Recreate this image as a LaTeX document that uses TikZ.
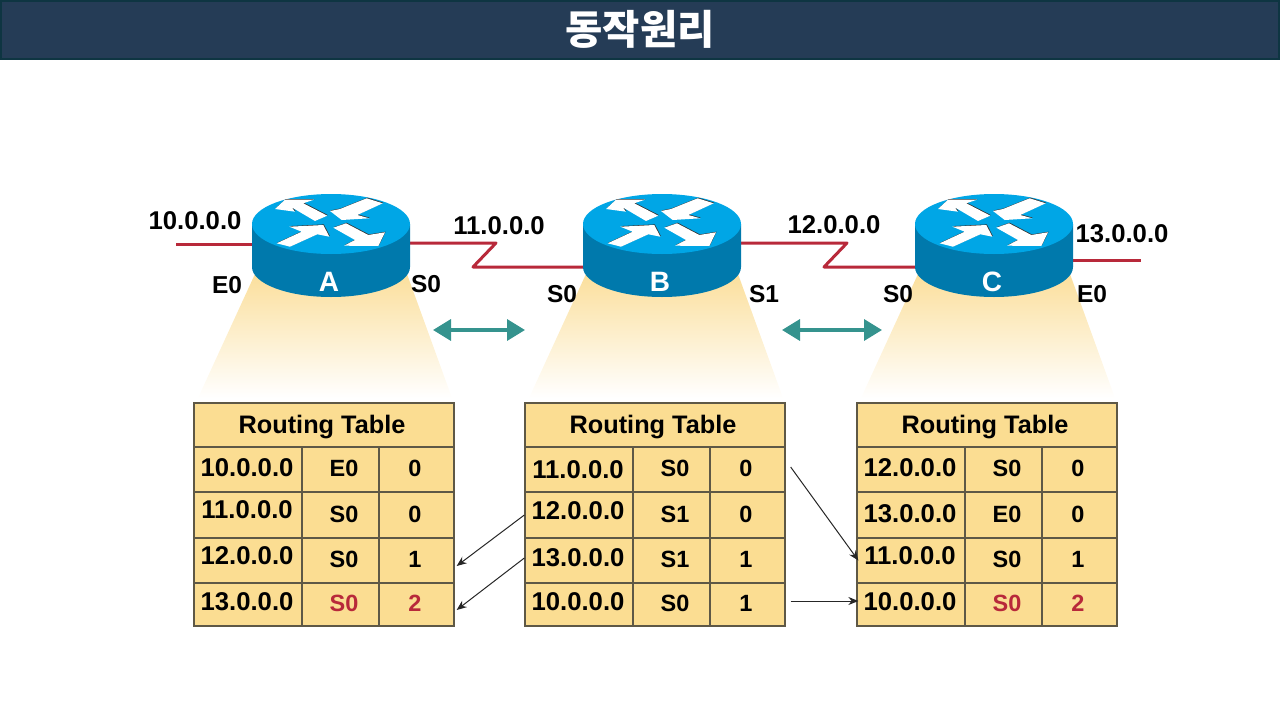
\documentclass[tikz,border=0pt]{standalone}
\usepackage{fontspec}
\setmainfont{Liberation Sans}
\newfontfamily\krfont{Noto Sans CJK KR}
\usetikzlibrary{arrows.meta}
\definecolor{barblue}{HTML}{253C56}
\definecolor{barline}{HTML}{0E3542}
\definecolor{topblue}{HTML}{00A6E6}
\definecolor{sideblue}{HTML}{0079AC}
\definecolor{linkred}{HTML}{B8293A}
\definecolor{tablefill}{HTML}{FBDD92}
\definecolor{tableline}{HTML}{5E5846}
\definecolor{conefill}{HTML}{FBDF9C}
\definecolor{tealarrow}{HTML}{35938E}
\begin{document}
\begin{tikzpicture}[
    x=1pt, y=-1pt,
    every node/.style={font=\fontsize{25.7}{30}\bfseries, inner sep=0pt},
    cell/.style={draw=tableline, line width=1.3pt, fill=tablefill},
    cellsmall/.style={font=\fontsize{23.5}{28}\bfseries},
    iface/.style={font=\fontsize{24.5}{28}\bfseries},
    wan/.style={draw=linkred, line width=3pt},
    update/.style={-{Stealth[length=10pt,width=8pt]}, draw=black!85, line width=1pt},
    exchange/.style={{Triangle[length=18pt,width=21pt]}-{Triangle[length=18pt,width=21pt]}, draw=tealarrow, line width=3.5pt}
]
\useasboundingbox (0,0) rectangle (1280,720);

% ---------- title bar ----------
\fill[barblue, draw=barline, line width=1.5pt] (1,1) rectangle (1279,59);
\node[text=white, font=\krfont\fontsize{40.5}{46}\bfseries] (title) at (640,29) {동작원리};

% ---------- macro for the invisible router boxes ----------
% #1 = name, #2 = centre x
\newcommand{\routerbox}[2]{
  \node[minimum width=158pt, minimum height=100pt] (rt#1) at (#2,244) {};
}
\routerbox{A}{331}
\routerbox{B}{661}
\routerbox{C}{994}

% ---------- red links, they run under the routers ----------
\coordinate (lanA) at (176,244);
\coordinate (bendA1) at (496,243);
\coordinate (bendA2) at (473,267);
\coordinate (bendB1) at (847,243);
\coordinate (bendB2) at (824,267);
\coordinate (lanC) at (1141,260);
\draw[wan] (lanA) -- (rtA.center);
\draw[wan, line join=round] (rtA.center |- bendA1) -- (bendA1) -- (bendA2) -- (bendA2 -| rtB.center);
\draw[wan, line join=round] (rtB.center |- bendB1) -- (bendB1) -- (bendB2) -- (bendB2 -| rtC.center);
\draw[wan] (rtC.center |- lanC) -- (lanC);

% ---------- macro to draw one router with its cone and table ----------
% #1 = x offset
% #2 = name
% #3 = rows: ip / shift of ip / port / hops / colour
\newcommand{\routersite}[3]{
  \begin{scope}[xshift=#1]
    % cone below the router
    \shade[top color=conefill, bottom color=white] (255,274) -- (407,274) -- (452,398) -- (198,398) -- cycle;
    % body and top
    \fill[sideblue] (252,224) -- (252,267) arc[start angle=180, end angle=360, x radius=79, y radius=-30] -- (410,224) -- cycle;
    \fill[topblue] (331,224) ellipse[x radius=79, y radius=30];
    % four arrows on the top
    \begin{scope}[shift={(331,224)}]
      \foreach \sx/\fillc in {0.6/black!80, 0/white}{
        \begin{scope}[shift={(\sx,-\sx)}]
          \fill[\fillc] (-56,-15) -- (-46,-24.3) -- (-17,-24.3) -- (-27.7,-20.7) -- (-3.7,-8.3) -- (-16,-3) -- (-39.3,-16.7) -- (-36,-12.3) -- cycle;
          \fill[\fillc] (-1,-13) -- (9,-15) -- (35.7,-25.7) -- (51.7,-20.7) -- (26.3,-9) -- (38.3,-5.7) -- (10.7,-4) -- cycle;
          \fill[\fillc] (-54.3,19.3) -- (-29.3,7.7) -- (-41.7,2.7) -- (-7.7,1) -- (-1.7,12.7) -- (-13.7,10.3) -- (-41,22.7) -- cycle;
          \fill[\fillc] (2.3,3.7) -- (15,-0.7) -- (37.3,11) -- (54,8.3) -- (47.3,22) -- (13,21.7) -- (24,16) -- cycle;
        \end{scope}
      }
    \end{scope}
    % router letter
    \node[text=white, font=\fontsize{28}{32}\bfseries] (letter#2) at (329,282) {#2};
    % table head
    \node[cell, minimum width=260pt, minimum height=44pt] (head#2) at (324,425) {};
    \node[font=\fontsize{25.3}{30}\bfseries] (headt#2) at (322,427) {Routing Table};
    % table rows
    \foreach \ip/\dy/\port/\hop/\col [count=\rw] in {#3}{
      \pgfmathsetmacro\ry{{469.5,515,560.5,604.5}[\rw-1]}
      \pgfmathsetmacro\rh{{45,46,45,43}[\rw-1]}
      \node[cell, minimum width=108pt, minimum height=\rh pt] (t#2-ip\rw) at (248,\ry) {};
      \node[cell, minimum width=77pt, minimum height=\rh pt] (t#2-port\rw) at (340.5,\ry) {};
      \node[cell, minimum width=75pt, minimum height=\rh pt] (t#2-hop\rw) at (416.5,\ry) {};
      \node (ipt#2\rw) at (247,\ry+\dy) {\ip};
      \node[cellsmall, text=\col] (portt#2\rw) at (344,\ry-1) {\port};
      \node[cellsmall, text=\col] (hopt#2\rw) at (415,\ry-1) {\hop};
    }
  \end{scope}
}

\routersite{0pt}{A}{10.0.0.0/-1.5/E0/0/black, 11.0.0.0/-5/S0/0/black, 12.0.0.0/-4.5/S0/1/black, 13.0.0.0/-2.5/S0/2/linkred}
\routersite{331pt}{B}{11.0.0.0/0.5/S0/0/black, 12.0.0.0/-4/S1/0/black, 13.0.0.0/-2.5/S1/1/black, 10.0.0.0/-2.5/S0/1/black}
\routersite{663pt}{C}{12.0.0.0/-1.5/S0/0/black, 13.0.0.0/-1/E0/0/black, 11.0.0.0/-4.5/S0/1/black, 10.0.0.0/-2.5/S0/2/linkred}

% ---------- network and port labels ----------
\node (netA) at (195,221) {10.0.0.0};
\node (netB) at (499,226) {11.0.0.0};
\node (netC) at (834,225) {12.0.0.0};
\node (netD) at (1122,234) {13.0.0.0};
\node[iface] (portAe) at (227,285) {E0};
\node[iface] (portAs) at (426,284) {S0};
\node[iface] (portBs0) at (562,294) {S0};
\node[iface] (portBs1) at (764,294) {S1};
\node[iface] (portCs) at (898,294) {S0};
\node[iface] (portCe) at (1092,294) {E0};

% ---------- teal arrows between the routers ----------
\coordinate (swapA1) at (433,330);
\coordinate (swapA2) at (525,330);
\coordinate (swapB1) at (782,330);
\coordinate (swapB2) at (882,330);
\draw[exchange] (swapA1) -- (swapA2);
\draw[exchange] (swapB1) -- (swapB2);

% ---------- table updates ----------
\draw[update] (tB-ip2.west) -- ([shift={(2,5.5)}]tA-hop3.east);
\draw[update] ([yshift=2.5]tB-ip3.west) -- ([shift={(2,5.5)}]tA-hop4.east);
\draw[update] ([shift={(5,-2.5)}]tB-hop1.east) -- ([xshift=2]tC-ip3.west);
\draw[update] ([shift={(5,-3.5)}]tB-hop4.east) -- ([shift={(2,-3.5)}]tC-ip4.west);

\end{tikzpicture}
\end{document}
